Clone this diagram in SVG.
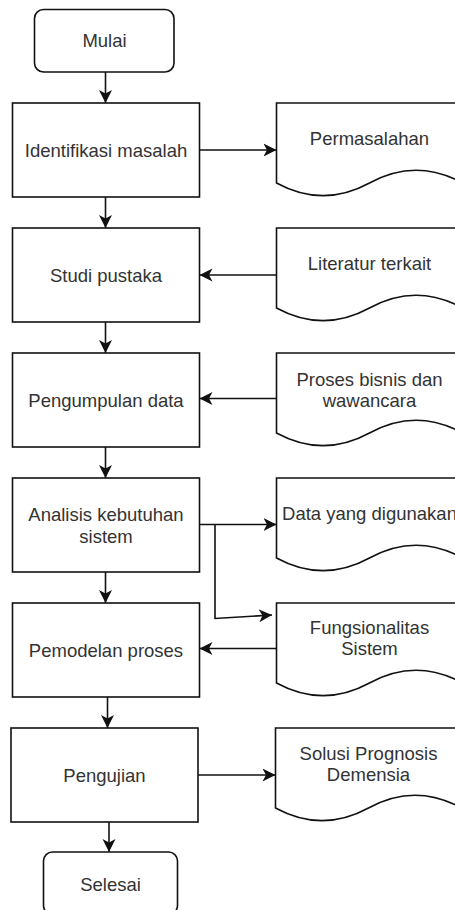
<svg xmlns="http://www.w3.org/2000/svg" width="455" height="910" viewBox="0 0 455 910">
<defs>
<marker id="arr" markerUnits="userSpaceOnUse" markerWidth="14" markerHeight="14" viewBox="-13 -7 14 14" refX="0" refY="0" orient="auto">
<path d="M0,0 L-13,-6.5 L-9.5,0 L-13,6.5 Z" fill="#111"/>
</marker>
</defs>
<style>
.box{fill:#fff;stroke:#111;stroke-width:1.6}
.doc{fill:#fff;stroke:#111;stroke-width:1.6}
.t{font-family:"Liberation Sans",Arial,sans-serif;font-size:18.5px;fill:#333;text-anchor:middle}
.c{fill:none;stroke:#111;stroke-width:1.6;marker-end:url(#arr)}
</style>
<rect width="455" height="910" fill="#fff"/>
<g id="mulai"><rect class="box" x="34.5" y="9.5" width="139.5" height="62.5" rx="9"/><text class="t" x="104.5" y="47">Mulai</text></g>
<g id="identifikasi"><rect class="box" x="12.5" y="103" width="187" height="94"/><text class="t" x="106" y="157">Identifikasi masalah</text></g>
<g id="permasalahan"><path class="doc" d="M276.5,103 H462.5 V183 Q416,157.5 369.5,183 Q323,208.3 276.5,183 Z"/><text class="t" x="369.5" y="145">Permasalahan</text></g>
<g id="studi"><rect class="box" x="12.5" y="228" width="187" height="94"/><text class="t" x="106" y="281.5">Studi pustaka</text></g>
<g id="literatur"><path class="doc" d="M276.5,228 H462.5 V308 Q416,282.5 369.5,308 Q323,333.3 276.5,308 Z"/><text class="t" x="369.5" y="270">Literatur terkait</text></g>
<g id="pengumpulan"><rect class="box" x="12.5" y="353" width="187" height="94"/><text class="t" x="106" y="406.5">Pengumpulan data</text></g>
<g id="proses-bisnis"><path class="doc" d="M276.5,353 H462.5 V433 Q416,407.5 369.5,433 Q323,458.3 276.5,433 Z"/><text class="t" x="369.5" y="385.5">Proses bisnis dan</text><text class="t" x="369.5" y="406.5">wawancara</text></g>
<g id="analisis"><rect class="box" x="12.5" y="478" width="187" height="94"/><text class="t" x="106" y="520.5">Analisis kebutuhan</text><text class="t" x="106" y="542.5">sistem</text></g>
<g id="data"><path class="doc" d="M276.5,478 H462.5 V558 Q416,532.5 369.5,558 Q323,583.3 276.5,558 Z"/><text class="t" x="369.5" y="520">Data yang digunakan</text></g>
<g id="pemodelan"><rect class="box" x="12.5" y="603" width="187" height="94"/><text class="t" x="106" y="656.5">Pemodelan proses</text></g>
<g id="fungsionalitas"><path class="doc" d="M276.5,603 H462.5 V683 Q416,657.5 369.5,683 Q323,708.3 276.5,683 Z"/><text class="t" x="369.5" y="633.5">Fungsionalitas</text><text class="t" x="369.5" y="655">Sistem</text></g>
<g id="pengujian"><rect class="box" x="11" y="728" width="187" height="94"/><text class="t" x="104.5" y="781.5">Pengujian</text></g>
<g id="solusi"><path class="doc" d="M275.5,728 H461.5 V808 Q415,782.5 368.5,808 Q322,833.3 275.5,808 Z"/><text class="t" x="368.5" y="760">Solusi Prognosis</text><text class="t" x="368.5" y="780.5">Demensia</text></g>
<g id="selesai"><rect class="box" x="43.5" y="852" width="134" height="62.5" rx="9"/><text class="t" x="110.5" y="890.5">Selesai</text></g>
<g id="connectors">
<path class="c" d="M105.5,72 V103"/>
<path class="c" d="M199.5,150 H276.5"/>
<path class="c" d="M105.5,197 V228"/>
<path class="c" d="M276.5,275 H199.5"/>
<path class="c" d="M105.5,322 V353"/>
<path class="c" d="M276.5,398.5 H199.5"/>
<path class="c" d="M105.5,447 V478"/>
<path class="c" d="M199.5,524.5 H276.5"/>
<path class="c" d="M215,524.5 V618.5 L272,615"/>
<path class="c" d="M105.5,572 V603"/>
<path class="c" d="M276.5,648.5 H199.5"/>
<path class="c" d="M107.5,697 V728"/>
<path class="c" d="M198,775 H275.5"/>
<path class="c" d="M109,822 V852"/>
</g>
</svg>
